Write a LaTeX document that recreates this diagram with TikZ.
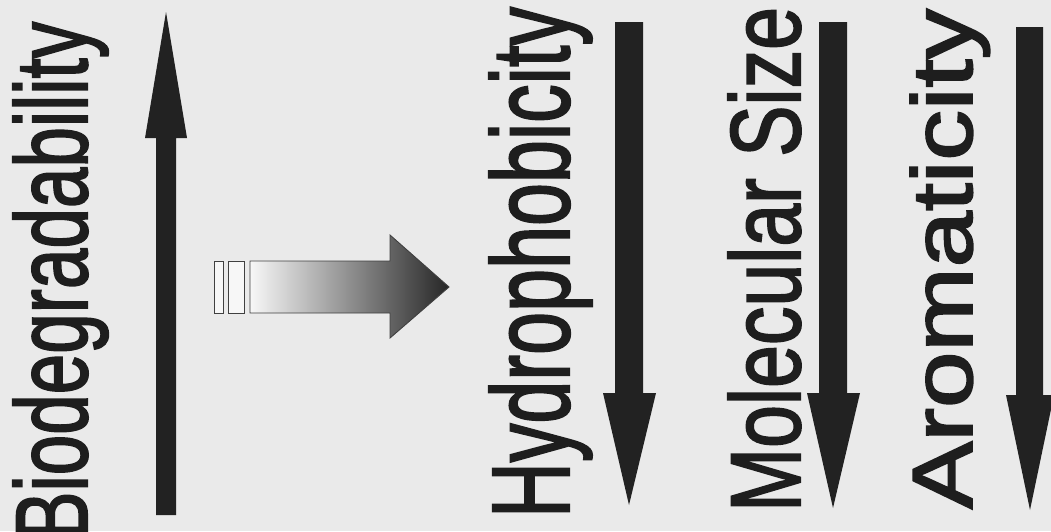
\documentclass[tikz,border=0pt]{standalone}
\usepackage{fontspec}
\setmainfont{Liberation Sans}
\newfontfamily\lblfont[FakeBold=2]{Liberation Sans}
\usepackage{graphicx}
\definecolor{bg}{HTML}{EAEAEA}
\definecolor{ink}{HTML}{1E1E1E}
\definecolor{arr}{HTML}{222222}
\tikzset{
  lbl/.style={rotate=90, anchor=base west, inner sep=0pt, outer sep=0pt, text=ink},
  bar/.style={fill=arr, draw=none},
  slot/.style={fill=gray!6, draw=black!75, line width=0.9pt},
  fat/.style={draw=black!75, line width=0.9pt, left color=gray!6, right color=black!85},
}
\begin{document}
\begin{tikzpicture}[x=1pt,y=-1pt]
\fill[bg] (0,0) rectangle (1051,531);
\useasboundingbox (0,0) rectangle (1051,531);

% labels
\node[lbl] (bio) at (87,540) {\resizebox{518pt}{74pt}{\lblfont Biodegradability}};
\node[lbl] (hyd) at (569,518) {\resizebox{511pt}{80pt}{\lblfont Hydrophobicity}};
\node[lbl] (mol) at (800,512) {\resizebox{505pt}{72pt}{\lblfont Molecular Size}};
\node[lbl] (aro) at (972,509) {\resizebox{500pt}{62pt}{\lblfont Aromaticity}};

% up arrow
\fill[bar] (156,515) -- (156,138) -- (145,138) -- (166,12) -- (187,138) -- (176,138) -- (176,515) -- cycle;
% down arrows
\fill[bar] (615,22) -- (615,393) -- (603,393) -- (629,505) -- (656,393) -- (643,393) -- (643,22) -- cycle;
\fill[bar] (819,22) -- (819,393) -- (807,393) -- (833,508) -- (860,393) -- (847,393) -- (847,22) -- cycle;
\fill[bar] (1016,27) -- (1016,395) -- (1006,395) -- (1030,510) -- (1054,395) -- (1043,395) -- (1043,27) -- cycle;

% block arrow
\draw[slot] (214,261) rectangle (223,313);
\draw[slot] (228,261) rectangle (244,313);
\path[fat] (250,261) -- (390,261) -- (390,235) -- (449,287) -- (390,338) -- (390,313) -- (250,313) -- cycle;
\end{tikzpicture}
\end{document}
